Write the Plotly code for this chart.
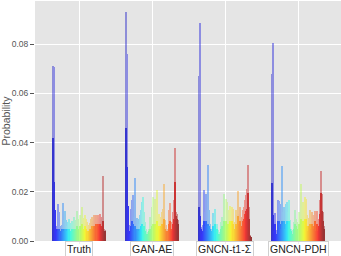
import plotly.graph_objects as go

# ---------------- data ----------------
groups = ["Truth", "GAN-AE", "GNCN-t1-Σ", "GNCN-PDH"]

truth_top = [0.071, 0.0705, 0.0126, 0.006, 0.005, 0.015, 0.0117, 0.006, 0.0065, 0.0154,
             0.0085, 0.012, 0.0086, 0.006, 0.0077, 0.009, 0.0072, 0.008, 0.0068, 0.0097,
             0.008, 0.0085, 0.012, 0.009, 0.0104, 0.0075, 0.0138, 0.0095, 0.0084, 0.0104,
             0.0088, 0.0077, 0.0063, 0.0072, 0.009, 0.0097, 0.0082, 0.0104, 0.0107, 0.0105,
             0.0104, 0.0095, 0.011, 0.0097, 0.0088, 0.0266, 0.005, 0.0043]
truth_base = [0.042, 0.024, 0.0126, 0.005, 0.004, 0.005, 0.005, 0.004, 0.005, 0.005,
              0.004, 0.005, 0.005, 0.004, 0.005, 0.005, 0.004, 0.005, 0.004, 0.005,
              0.004, 0.005, 0.006, 0.005, 0.006, 0.004, 0.007, 0.005, 0.005, 0.006,
              0.005, 0.004, 0.004, 0.005, 0.005, 0.006, 0.005, 0.006, 0.006, 0.007,
              0.007, 0.006, 0.007, 0.006, 0.005, 0.008, 0.004, 0.004]

ganae_top = [0.0929, 0.0759, 0.0144, 0.0063, 0.003, 0.0128, 0.0165, 0.0185, 0.0097, 0.0257,
             0.0095, 0.009, 0.007, 0.0104, 0.0124, 0.0158, 0.0178, 0.0117, 0.0077, 0.005,
             0.0036, 0.005, 0.0097, 0.0084, 0.0138, 0.0178, 0.0151, 0.0171, 0.0124, 0.0208,
             0.011, 0.007, 0.0097, 0.0117, 0.0131, 0.0232, 0.0084, 0.0063, 0.005, 0.0124,
             0.0154, 0.0077, 0.0046, 0.0117, 0.0165, 0.0379, 0.0117, 0.0108, 0.0084]
ganae_base = [0.046, 0.030, 0.0144, 0.004, 0.003, 0.006, 0.008, 0.007, 0.005, 0.006,
              0.005, 0.005, 0.004, 0.005, 0.006, 0.007, 0.006, 0.006, 0.004, 0.003,
              0.003, 0.004, 0.005, 0.005, 0.006, 0.007, 0.006, 0.007, 0.006, 0.008,
              0.006, 0.005, 0.006, 0.007, 0.007, 0.009, 0.005, 0.004, 0.004, 0.007,
              0.008, 0.005, 0.004, 0.007, 0.009, 0.024, 0.010, 0.009, 0.007]

t1_top = [0.0669, 0.0884, 0.0057, 0.0036, 0.0063, 0.0208, 0.0117, 0.0192, 0.0124, 0.031,
          0.0127, 0.007, 0.005, 0.0046, 0.0113, 0.0097, 0.0131, 0.007, 0.0043, 0.0027,
          0.0036, 0.0077, 0.0097, 0.0077, 0.0189, 0.0117, 0.0171, 0.0158, 0.0084, 0.0124,
          0.0144, 0.0097, 0.014, 0.0131, 0.0077, 0.0124, 0.0104, 0.0203, 0.011, 0.0138,
          0.0077, 0.0097, 0.0124, 0.0138, 0.0165, 0.0185, 0.0212, 0.031, 0.0138, 0.0023,
          0.0016]
t1_base = [0.014, 0.010, 0.005, 0.003, 0.004, 0.008, 0.006, 0.008, 0.006, 0.007,
           0.006, 0.005, 0.004, 0.004, 0.006, 0.006, 0.007, 0.005, 0.003, 0.002,
           0.003, 0.005, 0.006, 0.005, 0.008, 0.006, 0.008, 0.007, 0.005, 0.007,
           0.008, 0.006, 0.008, 0.007, 0.005, 0.007, 0.006, 0.010, 0.007, 0.008,
           0.005, 0.006, 0.008, 0.009, 0.011, 0.012, 0.013, 0.0195, 0.009, 0.002,
           0.0016]

pdh_top = [0.0678, 0.0805, 0.005, 0.0113, 0.0043, 0.003, 0.0167, 0.0162, 0.0151, 0.0084,
           0.0306, 0.0117, 0.014, 0.0084, 0.0151, 0.0158, 0.0117, 0.0165, 0.0084, 0.005,
           0.003, 0.0043, 0.0077, 0.0127, 0.009, 0.0077, 0.0117, 0.0097, 0.0232, 0.0138,
           0.0158, 0.0084, 0.0178, 0.0171, 0.0104, 0.005, 0.0095, 0.0124, 0.007, 0.0117,
           0.0104, 0.007, 0.0122, 0.0057, 0.0122, 0.005, 0.009, 0.0165, 0.0286, 0.0192,
           0.0117, 0.006]
pdh_base = [0.0235, 0.0104, 0.004, 0.007, 0.003, 0.003, 0.008, 0.008, 0.007, 0.005,
            0.008, 0.007, 0.008, 0.005, 0.007, 0.008, 0.007, 0.008, 0.005, 0.004,
            0.003, 0.003, 0.005, 0.007, 0.006, 0.005, 0.007, 0.006, 0.009, 0.007,
            0.008, 0.005, 0.009, 0.009, 0.006, 0.004, 0.006, 0.007, 0.005, 0.007,
            0.006, 0.005, 0.008, 0.004, 0.007, 0.004, 0.006, 0.011, 0.0196, 0.012,
            0.008, 0.005]

series = [(truth_top, truth_base), (ganae_top, ganae_base),
          (t1_top, t1_base), (pdh_top, pdh_base)]
yticks = [0.00, 0.02, 0.04, 0.06, 0.08]


# ---------------- matplotlib-like jet colormap ----------------
def _interp(pts, t):
    for (x0, v0), (x1, v1) in zip(pts[:-1], pts[1:]):
        if x0 <= t <= x1:
            return v0 + (v1 - v0) * (t - x0) / (x1 - x0) if x1 > x0 else v1
    return pts[-1][1]


def jet(t):
    r = _interp([(0, 0), (0.35, 0), (0.66, 1), (0.89, 1), (1, 0.5)], t)
    g = _interp([(0, 0), (0.125, 0), (0.375, 1), (0.64, 1), (0.91, 0), (1, 0)], t)
    b = _interp([(0, 0.5), (0.11, 1), (0.34, 1), (0.65, 0), (1, 0)], t)
    return "rgb(%d,%d,%d)" % (round(r * 255), round(g * 255), round(b * 255))


FONT = "Liberation Sans"
GROUP_W = 0.74
fig = go.Figure()
for gi, (top, base) in enumerate(series):
    n = len(top)
    w = GROUP_W / n
    xs = [gi - GROUP_W / 2 + (i + 0.5) * w for i in range(n)]
    cols = [jet(0.06 + 0.94 * i / (n - 1)) for i in range(n)]
    fig.add_trace(go.Bar(x=xs, y=top, width=w, marker=dict(color=cols, line=dict(width=0)),
                         opacity=0.38, showlegend=False, hoverinfo="skip"))
    fig.add_trace(go.Bar(x=xs, y=base, width=w, marker=dict(color=cols, line=dict(width=0)),
                         opacity=0.62, showlegend=False, hoverinfo="skip"))

for gi, name in enumerate(groups):
    fig.add_annotation(x=gi, y=0, xref="x", yref="paper", text=name, showarrow=False,
                       yanchor="middle", yshift=-7.5,
                       font=dict(family=FONT, size=10.5, color="#222"),
                       bgcolor="rgba(255,255,255,0.9)", bordercolor="#d0d0d0",
                       borderwidth=1, borderpad=1)

fig.update_layout(
    width=341, height=256,
    margin=dict(l=35, r=0, t=1, b=15),
    paper_bgcolor="white", plot_bgcolor="#E5E5E5",
    barmode="overlay", bargap=0,
    font=dict(family=FONT, size=9, color="#555"),
    xaxis=dict(range=[-0.603, 3.589], tickvals=[0, 1, 2, 3], ticktext=["", "", "", ""],
               showgrid=True, gridcolor="white", gridwidth=1, zeroline=False,
               ticks="outside", ticklen=2, tickcolor="#555", showline=False),
    yaxis=dict(range=[0, 0.0975], tickvals=yticks,
               ticktext=["%.2f" % v for v in yticks],
               showgrid=True, gridcolor="white", gridwidth=1, zeroline=False,
               ticks="outside", ticklen=4, tickcolor="#555",
               tickfont=dict(family=FONT, size=8.5, color="#555"),
               title=dict(text="Probability", standoff=0,
                          font=dict(family=FONT, size=10.5, color="#555"))),
)

fig.write_html("out.html", config={"displayModeBar": False},
               post_script="document.body.style.margin='0';"
                           "document.body.style.overflow='hidden';")
